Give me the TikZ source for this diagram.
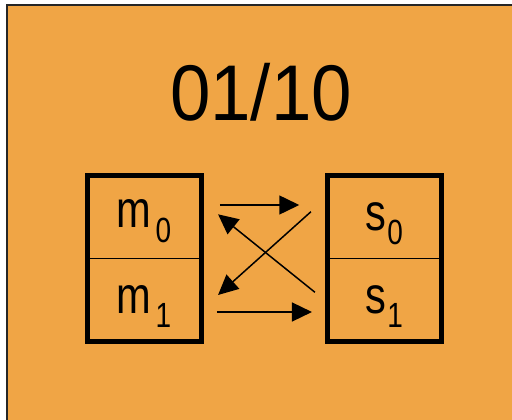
\documentclass[tikz,border=0pt]{standalone}
\usepackage{fontspec}
\usepackage{graphicx}
\setmainfont{Liberation Sans}
\usetikzlibrary{arrows.meta,calc}
\definecolor{bg}{RGB}{240,165,69}
\newcommand\mylab[3]{\scalebox{0.8}[1]{\fontsize{52}{52}\selectfont #1\kern#3\raisebox{-14.5pt}{\fontsize{35}{35}\selectfont #2}}}
\begin{document}
\begin{tikzpicture}[x=1pt,y=-1pt,
  cell/.style={draw,line width=1.5pt,minimum width=112pt,minimum height=82.5pt,inner sep=0pt},
  labl/.style={inner sep=0pt,anchor=base},
  arr/.style={line width=1.5pt,-{Triangle[length=20pt,width=19pt]}},
  outerbox/.style={line width=5pt}]
\useasboundingbox (0,0) rectangle (512,420);
\fill[white] (0,0) rectangle (512,420);
\fill[bg] (7,5) rectangle (512,420);
\draw[line width=1.5pt,black!85] (7,420) -- (7,5) -- (512,5);
\node (title) [inner sep=0pt] at (261,92.5) {\scalebox{0.92}[1]{\fontsize{79}{79}\selectfont 01/10}};
\node[cell] (m0) at (144.5,217) {};
\node[cell] (m1) at (144.5,299.5) {};
\node[cell] (s0) at (384.5,217) {};
\node[cell] (s1) at (384.5,299.5) {};
\draw[outerbox] (m0.north west) rectangle (m1.south east);
\draw[outerbox] (s0.north west) rectangle (s1.south east);
\node[labl] (lm0) at (144,227.7) {\mylab{m}{0}{5pt}};
\node[labl] (lm1) at (144,313.3) {\mylab{m}{1}{5pt}};
\node[labl] (ls0) at (384,230) {\mylab{s}{0}{2pt}};
\node[labl] (ls1) at (384,313.3) {\mylab{s}{1}{2pt}};
\draw[arr] ($(m0.east)+(18.5,-12)$) -- ($(s0.west)+(-28.5,-12)$);
\draw[arr] ($(m1.east)+(15.5,12.5)$) -- ($(s1.west)+(-15.8,12.5)$);
\draw[arr] ($(s0.west)+(-16.8,-5.3)$) -- ($(m1.east)+(16.8,-4.5)$);
\draw[arr] ($(s1.west)+(-12.8,-7.2)$) -- ($(m0.east)+(16.8,-2.7)$);
\end{tikzpicture}
\end{document}
